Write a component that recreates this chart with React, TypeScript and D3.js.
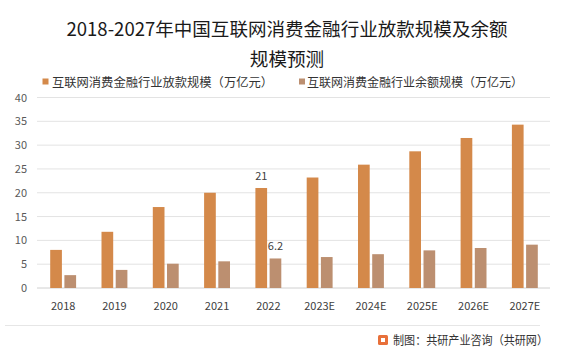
import React from "react";
import * as d3 from "d3";

const categories = ["2018", "2019", "2020", "2021", "2022", "2023E", "2024E", "2025E", "2026E", "2027E"];
const loanValues = [8.0, 11.8, 17.0, 20.0, 21, 23.2, 25.9, 28.7, 31.5, 34.3];
const balanceValues = [2.7, 3.8, 5.1, 5.6, 6.2, 6.5, 7.1, 7.9, 8.4, 9.1];
const yTicks = [0, 5, 10, 15, 20, 25, 30, 35, 40];
const seriesNames = ["互联网消费金融行业放款规模（万亿元）", "互联网消费金融行业余额规模（万亿元）"];
const titleLines = ["2018-2027年中国互联网消费金融行业放款规模及余额", "规模预测"];
const labeled = [{ cat: "2022", series: 0, text: "21" }, { cat: "2022", series: 1, text: "6.2" }];
const source = "制图：共研产业咨询（共研网）";

const W = 571, H = 356;
const colors = ["#D4894A", "#BC8F70"];
const font = "'Noto Sans CJK SC', 'Noto Sans', sans-serif";

export default function App() {
  const x = d3.scaleBand<string>().domain(categories).range([37.5, 550.5]);
  const y = d3.scaleLinear().domain([0, 40]).range([288, 97.5]);
  const barW = 11.7;
  const gap = 2.5;
  const series = [loanValues, balanceValues];
  const barX = (cat: string, s: number) =>
    (x(cat) as number) + x.bandwidth() / 2 - gap / 2 - barW + s * (barW + gap);

  return (
    <svg width={W} height={H} style={{ position: "absolute", left: 0, top: 0, background: "#fff" }} fontFamily={font}>
      <rect width={W} height={H} fill="#fff" />
      <text x={287} y={36} textAnchor="middle" fontSize={18.6} fill="#1a1a1a" textLength={441} lengthAdjust="spacingAndGlyphs">{titleLines[0]}</text>
      <text x={287} y={66} textAnchor="middle" fontSize={18.6} fill="#1a1a1a">{titleLines[1]}</text>
      {/* legend */}
      <rect x={42.5} y={78.5} width={6} height={6} fill={colors[0]} />
      <text x={52} y={86.5} fontSize={12.2} fill="#333" textLength={221} lengthAdjust="spacingAndGlyphs">{seriesNames[0]}</text>
      <rect x={299} y={78.5} width={6} height={6} fill={colors[1]} />
      <text x={307} y={86.5} fontSize={12.2} fill="#333" textLength={216} lengthAdjust="spacingAndGlyphs">{seriesNames[1]}</text>
      {/* grid */}
      {yTicks.map((t) => (
        <g key={t}>
          <line x1={37} x2={550} y1={y(t)} y2={y(t)} stroke={t === 0 ? "#d0d0d0" : "#e3e3e3"} strokeWidth={1} />
          <text x={27} y={y(t) + 4} textAnchor="end" fontSize={11} fill="#595959">{t}</text>
        </g>
      ))}
      {/* bars */}
      {series.map((vals, s) =>
        categories.map((c, i) => (
          <rect key={`${s}-${c}`} x={barX(c, s)} y={y(vals[i])} width={barW} height={y(0) - y(vals[i])} fill={colors[s]} />
        ))
      )}
      {labeled.map((l, i) => {
        const idx = categories.indexOf(l.cat);
        const v = series[l.series][idx];
        return (
          <text key={i} x={barX(l.cat, l.series) + barW / 2} y={y(v) - 8} textAnchor="middle" fontSize={11} fill="#404040">{l.text}</text>
        );
      })}
      {/* x labels */}
      {categories.map((c) => (
        <text key={c} x={(x(c) as number) + x.bandwidth() / 2} y={310} textAnchor="middle" fontSize={11} fill="#404040">{c}</text>
      ))}
      <line x1={5} x2={540} y1={325.5} y2={325.5} stroke="#e6e6e6" strokeWidth={1} />
      {/* source */}
      <g transform="translate(378,335)">
        <rect x={0} y={0} width={10} height={10} rx={1.5} fill="#E8703A" />
        <rect x={3} y={3} width={4} height={4} fill="#fff" />
        <text x={15} y={9.5} fontSize={12} fill="#333" textLength={155} lengthAdjust="spacingAndGlyphs">{source}</text>
      </g>
    </svg>
  );
}
